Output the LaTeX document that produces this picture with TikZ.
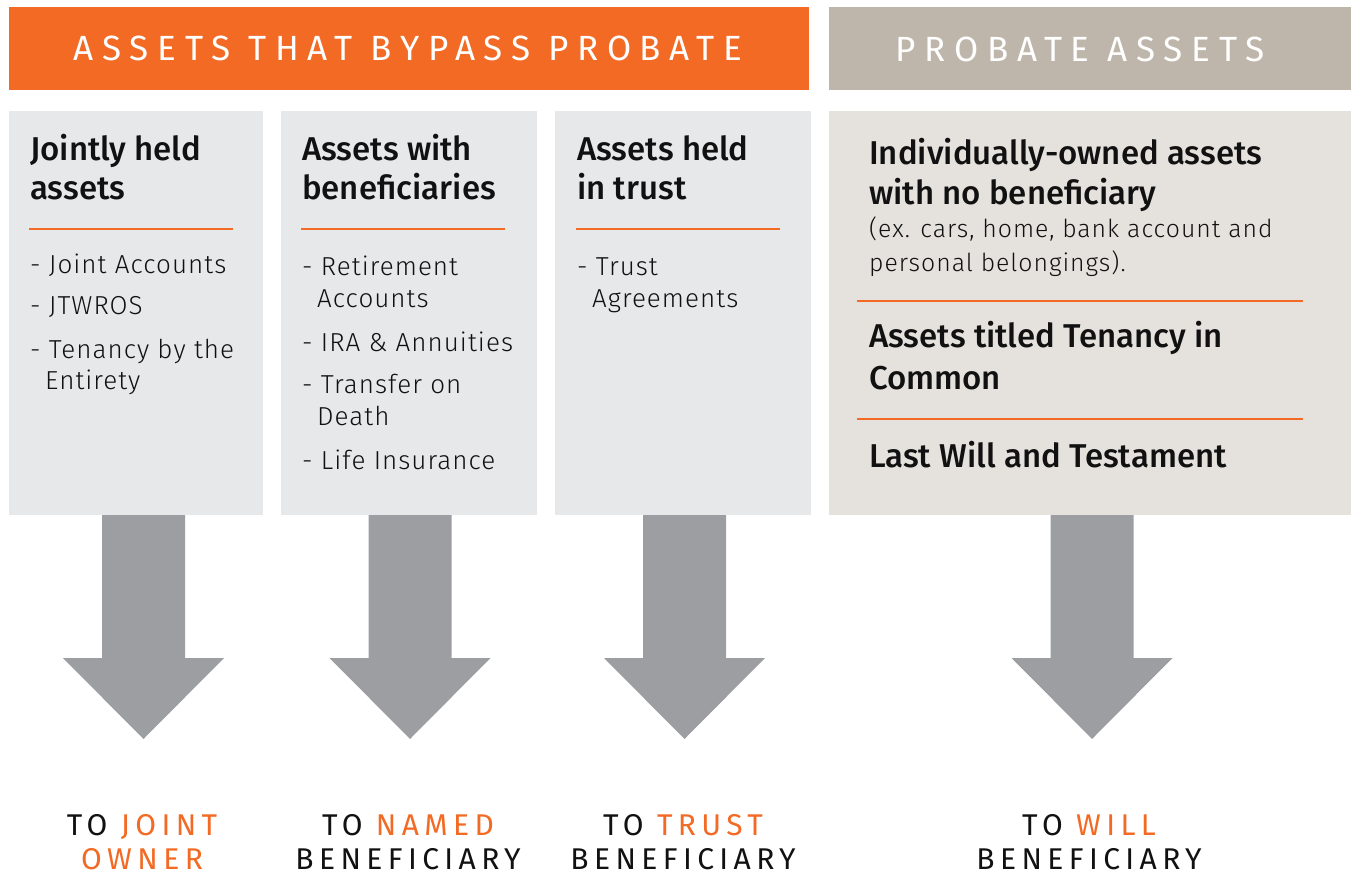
\documentclass[tikz,border=0pt]{standalone}
\usepackage{fontspec}
\setmainfont{Fira Sans}
\newfontfamily\titlef{Fira Sans Medium}
\newfontfamily\itemf[LetterSpace=4]{Fira Sans Light}
\newfontfamily\headf[LetterSpace=25]{Fira Sans}
\newfontfamily\labf[LetterSpace=18]{Fira Sans}
\definecolor{brandorange}{HTML}{F26A24}
\definecolor{hdrgray}{HTML}{BFB6AB}
\definecolor{boxgray}{HTML}{E7E8EA}
\definecolor{boxbeige}{HTML}{E5E2DE}
\definecolor{arrowgray}{HTML}{9C9EA2}
\definecolor{ink}{HTML}{111111}
\newcommand\bigdownarrow[1]{%
  \fill[arrowgray, shift={(#1,0)}] (-41.5,515) -- (41.5,515) -- (41.5,658) -- (80.5,658) -- (0,739) -- (-80.5,658) -- (-41.5,658) -- cycle;}
\begin{document}
\begin{tikzpicture}[x=1pt,y=-1pt,
  ttl/.style={anchor=base west, inner sep=0, text=ink, font=\titlef\fontsize{33}{40}\selectfont},
  itm/.style={anchor=base west, inner sep=0, text=ink, font=\itemf\fontsize{26}{30}\selectfont},
  subt/.style={anchor=base west, inner sep=0, text=ink, font=\itemf\fontsize{24.8}{30}\selectfont},
  sepline/.style={draw=brandorange, line width=2pt},
  hdr/.style={anchor=base, inner sep=0, text=white, font=\headf\fontsize{35}{40}\selectfont},
  lab/.style={anchor=base, inner sep=0, text depth=0pt, text=ink, font=\labf\fontsize{30}{36}\selectfont}]
\useasboundingbox (0,0) rectangle (1351,874);
% header bars
\fill[brandorange] (9,7) rectangle (809,90);
\fill[hdrgray] (829,7) rectangle (1351,90);
\node[hdr] (h1) at (408,61) {ASSETS THAT BYPASS PROBATE};
\node[hdr] (h2) at (1080,62) {PROBATE ASSETS};
% panels
\fill[boxgray] (9,111) rectangle (263,515);
\fill[boxgray] (281,111) rectangle (537,515);
\fill[boxgray] (555,111) rectangle (811,515);
\fill[boxbeige] (829,111) rectangle (1351,515);
% box 1
\node[ttl] (t1a) at (30,161) {Jointly held};
\node[ttl] (t1b) at (30,200) {assets};
\draw[sepline] (29,229) -- (233,229);
\node[itm] (i1a) at (30,274) {- Joint Accounts};
\node[itm] (i1b) at (30,315) {- JTWROS};
\node[itm] (i1c) at (30,358) {- Tenancy by the};
\node[itm] (i1d) at (45,389) {Entirety};
% box 2
\node[ttl] (t2a) at (302,161) {Assets with};
\node[ttl] (t2b) at (302,200) {beneficiaries};
\draw[sepline] (301,229) -- (505,229);
\node[itm] (i2a) at (302,276) {- Retirement};
\node[itm] (i2b) at (317,308) {Accounts};
\node[itm] (i2c) at (302,351) {- IRA \& Annuities};
\node[itm] (i2d) at (302,393) {- Transfer on};
\node[itm] (i2e) at (317,425) {Death};
\node[itm] (i2f) at (302,469) {- Life Insurance};
% box 3
\node[ttl] (t3a) at (577,161) {Assets held};
\node[ttl] (t3b) at (577,200) {in trust};
\draw[sepline] (576,229) -- (780,229);
\node[itm] (i3a) at (577,276) {- Trust};
\node[itm] (i3b) at (592,308) {Agreements};
% box 4
\node[ttl] (t4a) at (869,165) {Individually-owned assets};
\node[ttl] (t4b) at (869,205) {with no beneficiary};
\node[subt] (s4a) at (869,238) {(ex. cars, home, bank account and};
\node[subt] (s4b) at (869,272) {personal belongings).};
\draw[sepline] (857,301) -- (1303,301);
\node[ttl] (t4c) at (869,348) {Assets titled Tenancy in};
\node[ttl] (t4d) at (869,389) {Common};
\draw[sepline] (857,419) -- (1303,419);
\node[ttl] (t4e) at (869,467) {Last Will and Testament};
% arrows
\bigdownarrow{143.5}
\bigdownarrow{410}
\bigdownarrow{684.5}
\bigdownarrow{1092}
% bottom labels
\node[lab] (l1a) at (142,835) {TO \textcolor{brandorange}{JOINT}};
\node[lab, text=brandorange] (l1b) at (142,869) {OWNER};
\node[lab] (l2a) at (408,835) {TO \textcolor{brandorange}{NAMED}};
\node[lab] (l2b) at (408,869) {BENEFICIARY};
\node[lab] (l3a) at (683,835) {TO \textcolor{brandorange}{TRUST}};
\node[lab] (l3b) at (683,869) {BENEFICIARY};
\node[lab] (l4a) at (1089,835) {TO \textcolor{brandorange}{WILL}};
\node[lab] (l4b) at (1089,869) {BENEFICIARY};
\end{tikzpicture}
\end{document}
